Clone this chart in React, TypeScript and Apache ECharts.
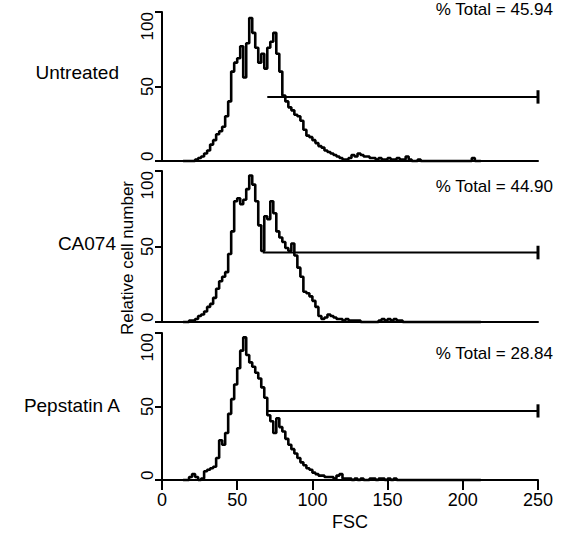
import React, { useEffect, useRef } from "react";
import * as echarts from "echarts";

const fscBins = [
  14, 16, 18, 20, 22, 24, 26, 28, 30, 32,
  34, 36, 38, 40, 42, 44, 46, 48, 50, 52,
  54, 56, 58, 60, 62, 64, 66, 68, 70, 72,
  74, 76, 78, 80, 82, 84, 86, 88, 90, 92,
  94, 96, 98, 100, 102, 104, 106, 108, 110, 112,
  114, 116, 118, 120, 122, 124, 126, 128, 130, 132,
  134, 136, 138, 140, 142, 144, 146, 148, 150, 152,
  154, 156, 158, 160, 162, 164, 166, 168, 170, 172,
  174, 176, 178, 180, 182, 184, 186, 188, 190, 192,
  194, 196, 198, 200, 202, 204, 206, 208, 210, 212,
];

const untreated = [
  0, 0, 0, 0, 1, 2, 3, 5, 7, 11,
  14, 18, 20, 23, 30, 40, 60, 66, 69, 77,
  56, 79, 96, 86, 76, 66, 72, 62, 76, 80,
  86, 72, 60, 44, 40, 36, 34, 31, 30, 27,
  21, 17, 16, 14, 12, 10, 9, 7, 6, 5,
  4, 3, 2, 1, 1, 2, 4, 3, 5, 4,
  3, 3, 2, 2, 1, 2, 1, 1, 2, 1,
  1, 2, 1, 1, 3, 1, 0, 0, 1, 0,
  0, 0, 0, 0, 0, 0, 0, 0, 0, 0,
  0, 0, 0, 0, 0, 0, 2, 0, 0, 0,
];

const ca074 = [
  0, 0, 1, 1, 2, 4, 5, 7, 10, 12,
  16, 22, 27, 30, 33, 45, 60, 80, 82, 78,
  81, 88, 97, 91, 80, 64, 47, 70, 68, 80,
  72, 60, 56, 53, 49, 47, 52, 44, 36, 30,
  20, 19, 17, 14, 10, 4, 2, 3, 5, 4,
  3, 2, 2, 1, 2, 1, 1, 1, 1, 0,
  0, 0, 0, 0, 0, 1, 2, 1, 2, 1,
  2, 1, 1, 0, 0, 0, 0, 0, 0, 0,
  0, 0, 0, 0, 0, 0, 0, 0, 0, 0,
  0, 0, 0, 0, 0, 0, 0, 0, 0, 0,
];

const pepstatinA = [
  0, 0, 2, 4, 2, 0, 1, 6, 7, 8,
  9, 15, 27, 24, 32, 45, 55, 65, 76, 88,
  97, 85, 80, 77, 73, 69, 63, 56, 44, 40,
  32, 42, 36, 33, 28, 24, 21, 18, 15, 12,
  10, 8, 7, 5, 4, 3, 3, 2, 2, 2,
  1, 3, 4, 1, 1, 1, 0, 1, 0, 1,
  0, 0, 1, 1, 0, 1, 1, 0, 1, 0,
  1, 0, 0, 0, 0, 0, 0, 0, 0, 0,
  0, 0, 0, 0, 0, 0, 0, 0, 0, 0,
  0, 0, 0, 0, 0, 0, 0, 0, 0, 0,
];

const panelNames = ["Untreated", "CA074", "Pepstatin A"];
const totals = ["45.94", "44.90", "28.84"];
const gateStart = [70, 67, 70];
const gateEnd = [250, 250, 250];
const gateLevel = [43, 46, 47];
const gateBarHalf = 4.5;
const xTicks = [0, 50, 100, 150, 200, 250];
const yTicks = [0, 50, 100];

const panelValues = [untreated, ca074, pepstatinA];

const FONT = "'Liberation Sans', Arial, Helvetica, sans-serif";

// layout only
const gridTops = [12, 171, 333];
const gridHeights = [149, 151, 147];
const nameX = [119, 116, 120];
const nameY = [72, 243, 405];
const totalY = [9, 186, 353];

export default function App() {
  const ref = useRef<HTMLDivElement>(null);

  useEffect(() => {
    if (!ref.current) return;
    const chart = echarts.init(ref.current, null, { renderer: "svg" });

    const grids = gridTops.map((t, i) => ({
      left: 162,
      right: 29,
      top: t,
      height: gridHeights[i],
      containLabel: false,
    }));

    const xAxes = grids.map((_, i) => ({
      type: "value",
      gridIndex: i,
      min: xTicks[0],
      max: xTicks[xTicks.length - 1],
      interval: 50,
      axisLine: { show: true, onZero: false, lineStyle: { color: "#000", width: 2 } },
      axisTick: {
        show: i === 2,
        length: 10,
        lineStyle: { color: "#000", width: 2 },
      },
      axisLabel: {
        show: i === 2,
        color: "#000",
        fontSize: 18,
        fontFamily: FONT,
        margin: 11,
        formatter: (v: number) => (xTicks.includes(v) ? String(v) : ""),
      },
      splitLine: { show: false },
      name: i === 2 ? "FSC" : "",
      nameLocation: "middle",
      nameGap: 33,
      nameTextStyle: { color: "#000", fontSize: 18, fontFamily: FONT },
    }));

    const yAxes = grids.map((_, i) => ({
      type: "value",
      gridIndex: i,
      min: yTicks[0],
      max: yTicks[yTicks.length - 1],
      interval: 50,
      axisLine: { show: true, lineStyle: { color: "#000", width: 2 } },
      axisTick: { show: true, length: 7, lineStyle: { color: "#000", width: 2 } },
      axisLabel: {
        show: true,
        rotate: 90,
        color: "#000",
        fontSize: 17,
        fontFamily: FONT,
        margin: 6,
        alignMinLabel: "left",
        alignMaxLabel: "right",
      },
      splitLine: { show: false },
    }));

    const series: any[] = [];
    panelValues.forEach((vals, i) => {
      series.push({
        type: "line",
        xAxisIndex: i,
        yAxisIndex: i,
        step: "end",
        symbol: "none",
        data: fscBins.map((x, k) => [x, vals[k]]),
        lineStyle: { color: "#000", width: 2.6 },
        clip: false,
      });
      series.push({
        type: "line",
        xAxisIndex: i,
        yAxisIndex: i,
        symbol: "none",
        data: [
          [gateStart[i], gateLevel[i]],
          [gateEnd[i], gateLevel[i]],
        ],
        lineStyle: { color: "#000", width: 2 },
        clip: false,
      });
      series.push({
        type: "line",
        xAxisIndex: i,
        yAxisIndex: i,
        symbol: "none",
        data: [
          [gateEnd[i], gateLevel[i] - gateBarHalf],
          [gateEnd[i], gateLevel[i] + gateBarHalf],
        ],
        lineStyle: { color: "#000", width: 3 },
        clip: false,
      });
    });

    const graphics: any[] = [];
    panelNames.forEach((n, i) => {
      graphics.push({
        type: "text",
        x: nameX[i],
        y: nameY[i],
        style: {
          text: n,
          fill: "#000",
          font: `19px ${FONT}`,
          textAlign: "right",
          textVerticalAlign: "middle",
        },
      });
      graphics.push({
        type: "text",
        x: 553,
        y: totalY[i],
        style: {
          text: `% Total = ${totals[i]}`,
          fill: "#000",
          font: `17px ${FONT}`,
          textAlign: "right",
          textVerticalAlign: "middle",
        },
      });
    });
    graphics.push({
      type: "text",
      x: 127,
      y: 258,
      rotation: Math.PI / 2,
      style: {
        text: "Relative cell number",
        fill: "#000",
        font: `17px ${FONT}`,
        textAlign: "center",
        textVerticalAlign: "middle",
      },
    });

    chart.setOption({
      animation: false,
      backgroundColor: "#fff",
      grid: grids,
      xAxis: xAxes,
      yAxis: yAxes,
      series,
      graphic: graphics,
    });

    return () => chart.dispose();
  }, []);

  return (
    <div
      ref={ref}
      style={{ position: "fixed", left: 0, top: 0, width: 567, height: 536 }}
    />
  );
}
